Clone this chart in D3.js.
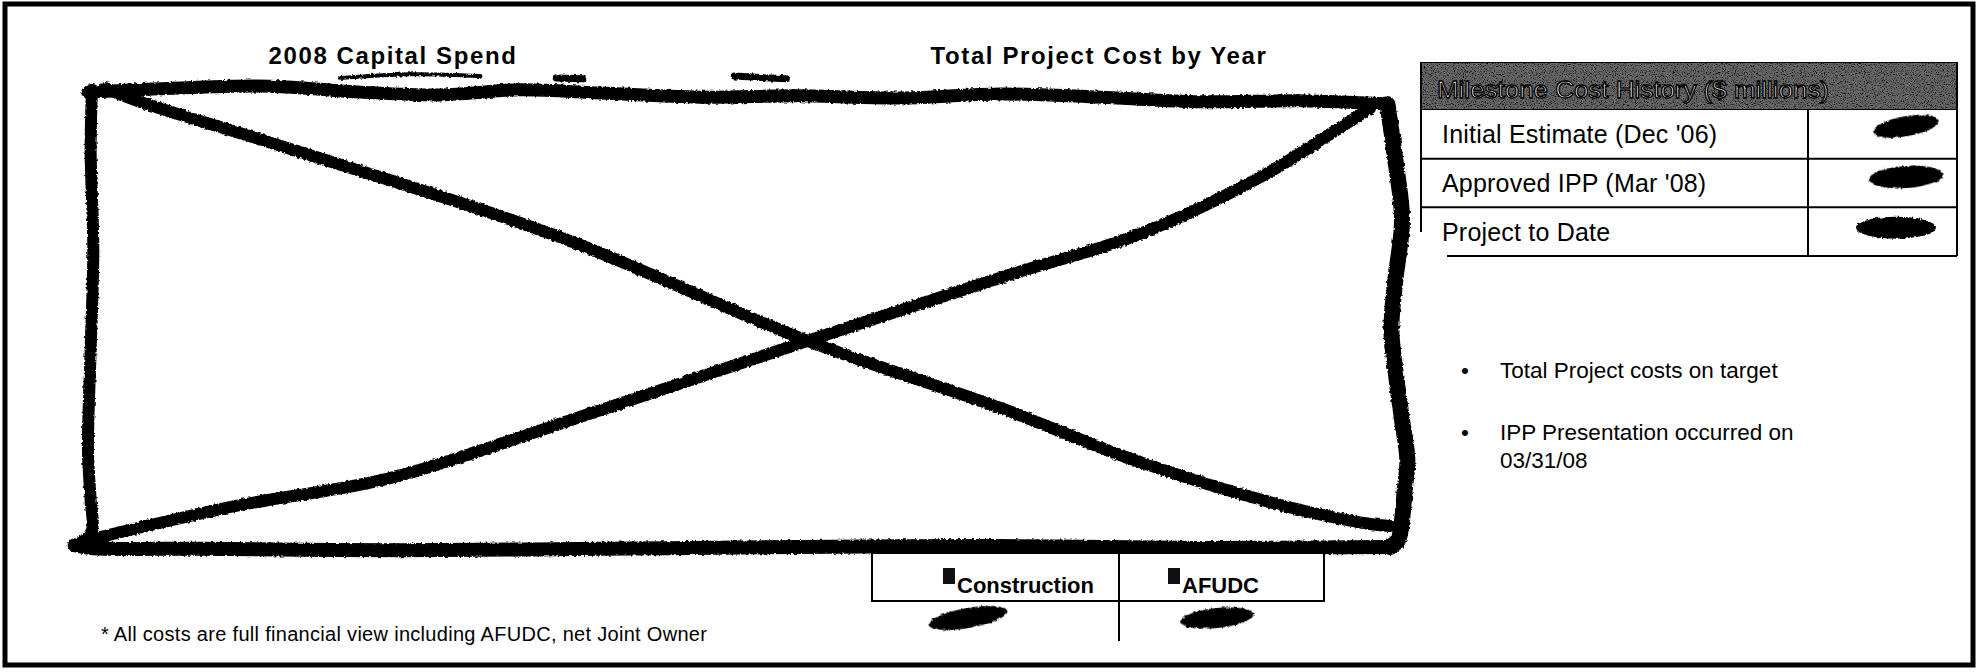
<!DOCTYPE HTML>
<html>
<head>
  <title>Capital Spend / Total Project Cost</title>
  <script src="https://d3js.org/d3.v7.min.js"></script>
  <style type="text/css">
    body { margin: 0; background: #fff; }
    svg { display: block; font-family: "Liberation Sans", Arial, sans-serif; }
    .title { font-weight: bold; font-size: 24px; letter-spacing: 1.6px; }
    .cell { font-size: 25px; letter-spacing: 0.2px; }
    .legend { font-weight: bold; font-size: 22px; }
    .note { font-size: 22.5px; }
    .foot { font-size: 20px; letter-spacing: 0.3px; }
    .scribble { fill: none; stroke: #000; stroke-linecap: round; stroke-linejoin: round; }
  </style>
</head>
<body>
  <svg width="1980" height="672"></svg>
  <script type="text/javascript">
    // chart content (the chart itself was struck out with a hand drawn X)
    var panelTitles = ["2008 Capital Spend", "Total Project Cost by Year"];
    var legendSeries = ["Construction", "AFUDC"];
    var legendValues = [null, null]; // redacted
    var milestoneHeader = "Milestone Cost History ($ millions)";
    var milestoneRows = ["Initial Estimate (Dec '06)", "Approved IPP (Mar '08)", "Project to Date"];
    var milestoneValues = [null, null, null]; // redacted
    var notes = [["Total Project costs on target"], ["IPP Presentation occurred on", "03/31/08"]];
    var footnote = "* All costs are full financial view including AFUDC, net Joint Owner";

    // the hand drawn strike-out, in unit coords of the chart panel
    var strokes = [
      { w: 13, p: [[0.006,0.009],[0.075,0.000],[0.143,-0.004],[0.211,0.009],[0.271,0.015],[0.331,0.004],[0.391,0.011],[0.466,0.020],[0.541,0.017],[0.617,0.022],[0.692,0.013],[0.767,0.020],[0.842,0.030],[0.917,0.028],[0.983,0.035]] },
      { w: 16, p: [[0.983,0.035],[0.989,0.157],[0.994,0.288],[0.989,0.418],[0.986,0.527],[0.990,0.636],[0.994,0.723],[0.998,0.810],[0.996,0.876],[0.994,0.941],[0.991,0.985],[0.985,1.000]] },
      { w: 14, p: [[0.985,1.000],[0.842,1.002],[0.692,0.998],[0.541,1.000],[0.391,1.004],[0.241,1.007],[0.090,1.004],[0.008,1.002],[-0.004,0.996]] },
      { w: 12, p: [[0.009,0.004],[0.008,0.135],[0.010,0.353],[0.008,0.571],[0.006,0.789],[0.008,0.898],[0.009,0.963],[0.000,0.996]] },
      { w: 12, p: [[0.019,0.000],[0.041,0.026],[0.165,0.139],[0.361,0.325],[0.547,0.551],[0.692,0.697],[0.795,0.813],[0.902,0.908],[0.970,0.950],[0.985,0.954]] },
      { w: 12, p: [[0.000,0.989],[0.120,0.909],[0.233,0.850],[0.391,0.702],[0.547,0.551],[0.699,0.407],[0.795,0.320],[0.890,0.190],[0.947,0.087],[0.970,0.044]] },
      { w: 4, p: [[0.196,-0.022],[0.250,-0.030],[0.301,-0.026]] },
      { w: 7, p: [[0.358,-0.022],[0.378,-0.020]] },
      { w: 7, p: [[0.492,-0.026],[0.531,-0.020]] }
    ];

    var svg = d3.select("svg");
    var defs = svg.append("defs");

    var rough = defs.append("filter").attr("id", "rough")
      .attr("x", "-5%").attr("y", "-5%").attr("width", "110%").attr("height", "110%");
    rough.append("feTurbulence").attr("type", "fractalNoise").attr("baseFrequency", 0.35)
      .attr("numOctaves", 2).attr("seed", 4).attr("result", "n");
    rough.append("feDisplacementMap").attr("in", "SourceGraphic").attr("in2", "n")
      .attr("scale", 3.5).attr("xChannelSelector", "R").attr("yChannelSelector", "G");

    var speckle = defs.append("filter").attr("id", "speckle")
      .attr("x", 0).attr("y", 0).attr("width", "100%").attr("height", "100%");
    speckle.append("feTurbulence").attr("type", "fractalNoise").attr("baseFrequency", 0.9)
      .attr("numOctaves", 2).attr("seed", 7).attr("result", "n");
    speckle.append("feColorMatrix").attr("in", "n").attr("type", "matrix")
      .attr("values", "0 0 0 0 0  0 0 0 0 0  0 0 0 0 0  -3.4 0 0 0 1.9").attr("result", "dots");
    speckle.append("feComposite").attr("in", "dots").attr("in2", "SourceGraphic")
      .attr("operator", "in").attr("result", "d2");
    var mg = speckle.append("feMerge");
    mg.append("feMergeNode").attr("in", "SourceGraphic");
    mg.append("feMergeNode").attr("in", "d2");

    // page frame
    svg.append("rect")
      .attr("x", 5).attr("y", 4).attr("width", 1968).attr("height", 661)
      .attr("fill", "none").attr("stroke", "#000").attr("stroke-width", 5);

    // titles
    var titleX = d3.scalePoint().domain(panelTitles).range([393, 1099]);
    svg.selectAll(".title")
      .data(panelTitles)
      .enter().append("text")
      .attr("class", "title")
      .attr("x", function(d) { return titleX(d); })
      .attr("y", 64)
      .attr("text-anchor", "middle")
      .text(function(d) { return d; });

    // chart panel with strike-out
    var px = d3.scaleLinear().domain([0, 1]).range([80, 1410]);
    var py = d3.scaleLinear().domain([0, 1]).range([88, 547]);
    var line = d3.line()
      .curve(d3.curveCatmullRom.alpha(0.5))
      .x(function(d) { return px(d[0]); })
      .y(function(d) { return py(d[1]); });

    svg.append("g").attr("filter", "url(#rough)")
      .selectAll("path")
      .data(strokes)
      .enter().append("path")
      .attr("class", "scribble")
      .attr("stroke-width", function(d) { return d.w; })
      .attr("d", function(d) { return line(d.p); });

    // legend under the chart
    var legCell = d3.scaleOrdinal().domain(legendSeries).range([[872, 1119], [1119, 1324]]);
    var legInset = d3.scaleOrdinal().domain(legendSeries).range([71, 49]);
    var blobAt = d3.scaleOrdinal().domain(legendSeries).range([96, 98]);
    var lg = svg.append("g");
    lg.append("rect").attr("x", 872).attr("y", 553).attr("width", 452).attr("height", 48)
      .attr("fill", "#fff").attr("stroke", "#000").attr("stroke-width", 2);
    lg.append("line").attr("x1", 1119).attr("x2", 1119).attr("y1", 553).attr("y2", 641)
      .attr("stroke", "#000").attr("stroke-width", 2);
    var li = lg.selectAll(".li").data(legendSeries).enter().append("g");
    li.append("rect")
      .attr("x", function(d) { return legCell(d)[0] + legInset(d); })
      .attr("y", 568).attr("width", 12).attr("height", 16).attr("fill", "#111");
    li.append("text")
      .attr("class", "legend")
      .attr("x", function(d) { return legCell(d)[0] + legInset(d) + 14; })
      .attr("y", 593)
      .text(function(d) { return d; });
    // redacted legend values
    li.append("ellipse")
      .data(legendValues)
      .attr("cx", function(d, i) { return legCell(legendSeries[i])[0] + blobAt(legendSeries[i]); })
      .attr("cy", 618).attr("rx", function(d, i) { return [40, 37][i]; }).attr("ry", 10)
      .attr("transform", function(d, i) {
        return "rotate(" + [-10, -6][i] + "," + (legCell(legendSeries[i])[0] + blobAt(legendSeries[i])) + ",618)";
      })
      .attr("fill", "#000").attr("filter", "url(#rough)");

    // milestone table
    var tL = 1421, tM = 1808, tR = 1957, tTop = 62, hBot = 110;
    var rowY = d3.scaleBand().domain(d3.range(milestoneRows.length)).range([hBot, 256]);
    var tg = svg.append("g");
    tg.append("rect").attr("x", tL).attr("y", tTop).attr("width", tR - tL).attr("height", hBot - tTop)
      .attr("fill", "#6a6a6a").attr("stroke", "#000").attr("stroke-width", 2)
      .attr("filter", "url(#speckle)");
    tg.append("text")
      .attr("x", tL + 16).attr("y", 98)
      .attr("font-size", 24)
      .attr("fill", "#fff").attr("stroke", "#000").attr("stroke-width", 1.3)
      .attr("textLength", 392).attr("lengthAdjust", "spacingAndGlyphs")
      .text(milestoneHeader);
    var rows = tg.selectAll(".row").data(milestoneRows).enter().append("g");
    rows.append("line")
      .attr("x1", function(d, i) { return i === 2 ? tL + 26 : tL; }).attr("x2", tR)
      .attr("y1", function(d, i) { return rowY(i) + rowY.bandwidth(); })
      .attr("y2", function(d, i) { return rowY(i) + rowY.bandwidth(); })
      .attr("stroke", "#000").attr("stroke-width", 2);
    rows.append("text")
      .attr("class", "cell")
      .attr("x", tL + 21)
      .attr("y", function(d, i) { return rowY(i) + rowY.bandwidth() / 2 + 9; })
      .text(function(d) { return d; });
    rows.append("ellipse")
      .data(milestoneValues)
      .attr("cx", function(d, i) { return [1906, 1906, 1896][i]; })
      .attr("cy", function(d, i) { return rowY(i) + rowY.bandwidth() / 2 - 8 + i * 2; })
      .attr("rx", function(d, i) { return [33, 37, 40][i]; })
      .attr("ry", function(d, i) { return [10, 11, 11][i]; })
      .attr("transform", function(d, i) {
        var cy = rowY(i) + rowY.bandwidth() / 2 - 8 + i * 2;
        return "rotate(" + [-10, -4, 0][i] + "," + [1906, 1906, 1896][i] + "," + cy + ")";
      })
      .attr("fill", "#000").attr("filter", "url(#rough)");
    tg.append("line").attr("x1", tL).attr("x2", tL).attr("y1", tTop).attr("y2", 232)
      .attr("stroke", "#000").attr("stroke-width", 2);
    tg.append("line").attr("x1", tM).attr("x2", tM).attr("y1", hBot).attr("y2", 256)
      .attr("stroke", "#000").attr("stroke-width", 2);
    tg.append("line").attr("x1", tR).attr("x2", tR).attr("y1", tTop).attr("y2", 256)
      .attr("stroke", "#000").attr("stroke-width", 2);

    // bullet notes
    var noteY = d3.scaleOrdinal().domain(d3.range(notes.length)).range([378, 440]);
    var ng = svg.selectAll(".noteg").data(notes).enter().append("g");
    ng.append("text")
      .attr("class", "note")
      .attr("x", 1461).attr("y", function(d, i) { return noteY(i); })
      .text("\u2022");
    ng.append("text")
      .attr("class", "note")
      .attr("x", 1500)
      .attr("y", function(d, i) { return noteY(i); })
      .selectAll("tspan")
      .data(function(d) { return d; })
      .enter().append("tspan")
      .attr("x", 1500)
      .attr("dy", function(d, j) { return j ? 28 : 0; })
      .text(function(d) { return d; });

    // footnote
    svg.append("text").attr("class", "foot")
      .attr("x", 101).attr("y", 641)
      .text(footnote);
  </script>
</body>
</html>
